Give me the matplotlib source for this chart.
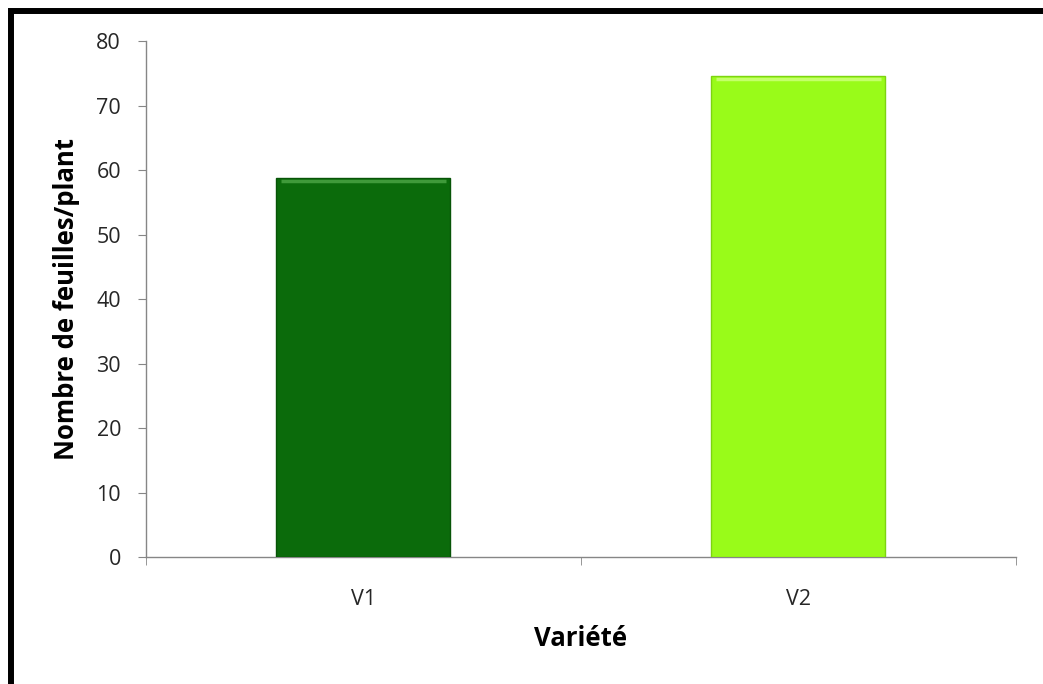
import matplotlib.pyplot as plt
from matplotlib.patches import Rectangle

# data
varietes = ['V1', 'V2']
feuilles = [58.8, 74.6]
couleurs = ['#0b6b0b', '#99fb19']
bords = ['#075407', '#7dd410']

plt.rcParams['font.family'] = ['Open Sans', 'DejaVu Sans']

fig = plt.figure(figsize=(10.43, 6.84), dpi=100)
ax = fig.add_axes([0.140, 0.1857, 0.834, 0.754])

x = list(range(len(varietes)))
ax.bar(x, feuilles, width=0.4, color=couleurs, edgecolor=bords, linewidth=1.0, zorder=3)
# light bevel on the top of each bar
for xi, h, c in zip(x, feuilles, ['#3f9a3a', '#c4ff6a']):
    ax.plot([xi - 0.19, xi + 0.19], [h - 0.45, h - 0.45], color=c, lw=2.5, zorder=4,
            solid_capstyle='butt')

ax.set_xlim(-0.5, 1.5)
ax.set_ylim(0, 80)
ax.set_yticks(range(0, 81, 10))
ax.set_xticks(x)
ax.set_xticklabels(varietes)
ax.set_xticks([-0.5, 0.5, 1.5], minor=True)

for s in ['top', 'right']:
    ax.spines[s].set_visible(False)
for s in ['left', 'bottom']:
    ax.spines[s].set_color('#868686')
    ax.spines[s].set_linewidth(1.0)

ax.tick_params(axis='y', direction='out', length=6, color='#868686', labelsize=15.5,
               labelcolor='#262626', pad=12)
ax.tick_params(axis='x', which='major', length=0, labelsize=15.5, labelcolor='#262626', pad=23)
ax.tick_params(axis='x', which='minor', direction='out', length=6, color='#868686')

ax.set_ylabel('Nombre de feuilles/plant', fontsize=18.5, fontweight='bold', labelpad=12)
ax.set_xlabel('Variété', fontsize=18.5, fontweight='bold', labelpad=11)

# black frame around the figure
fig.patches.append(Rectangle((0.0101, -0.1), 1.2, 1.0846, transform=fig.transFigure,
                             fill=False, edgecolor='black', linewidth=4.3))

fig.savefig('out.png', dpi=100)
